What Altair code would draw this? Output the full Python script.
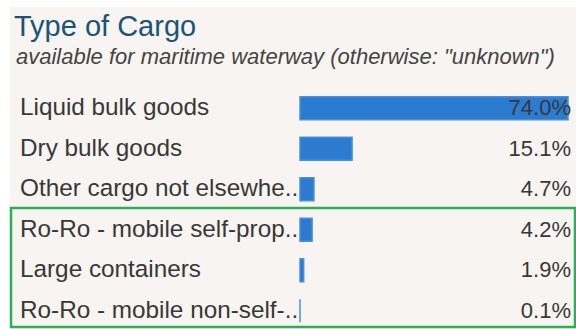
import altair as alt
import pandas as pd

categories = [
    "Liquid bulk goods",
    "Dry bulk goods",
    "Other cargo not elsewhe..",
    "Ro-Ro - mobile self-prop..",
    "Large containers",
    "Ro-Ro - mobile non-self-..",
]
shares = [74.0, 15.1, 4.7, 4.2, 1.9, 0.1]
value_labels = ["74.0%", "15.1%", "4.7%", "4.2%", "1.9%", "0.1%"]
title_text = ["Type of Cargo"]
subtitle_text = ['available for maritime waterway (otherwise: "unknown")']

df = pd.DataFrame({"cat": categories, "share": shares, "label": value_labels})
one = pd.DataFrame({"t": [0]})

FONT = "Liberation Sans"
W, H = 576, 329

yscale = alt.Scale(domain=categories, range=[88, 331], paddingInner=0.43, paddingOuter=0.215)
xscale = alt.Scale(domain=[0.9, 74], range=[300, 568], zero=False, clamp=True)

bg = alt.Chart(one).mark_rect(color="#f8f4f1").encode(
    x=alt.value(10), x2=alt.value(576), y=alt.value(7), y2=alt.value(329)
)

title = alt.Chart(one).mark_text(
    text=title_text[0], align="left", baseline="alphabetic", font=FONT,
    fontSize=29, color="#1b5479"
).encode(x=alt.value(14), y=alt.value(36))

subtitle = alt.Chart(one).mark_text(
    text=subtitle_text[0], align="left", baseline="alphabetic", font=FONT,
    fontSize=22, fontStyle="italic", color="#444444"
).encode(x=alt.value(16), y=alt.value(64))

bars = alt.Chart(df).mark_bar(color="#2b7bd1", stroke="#4a90d9", strokeWidth=1.5).encode(
    x=alt.X("share:Q", scale=xscale, axis=None),
    x2=alt.datum(0),
    y=alt.Y("cat:N", scale=yscale, axis=None, sort=categories),
)

names = alt.Chart(df).mark_text(
    align="left", baseline="middle", font=FONT, fontSize=24.3, color="#383838"
).encode(
    x=alt.value(20),
    y=alt.Y("cat:N", scale=yscale, axis=None, sort=categories),
    text="cat:N",
)

vals = alt.Chart(df).mark_text(
    align="right", baseline="middle", font=FONT, fontSize=22, color="#383838"
).encode(
    x=alt.value(571),
    y=alt.Y("cat:N", scale=yscale, axis=None, sort=categories),
    text="label:N",
)

box = alt.Chart(one).mark_rect(fillOpacity=0, stroke="#2fae5a", strokeWidth=2.5).encode(
    x=alt.value(11), x2=alt.value(575), y=alt.value(208), y2=alt.value(327)
)

chart = alt.layer(bg, title, subtitle, bars, names, vals, box).properties(
    width=W, height=H, padding=0, autosize=alt.AutoSizeParams(type="none"),
    background="white"
).configure_view(stroke=None)

chart.save("out.html", embed_options={"renderer": "svg", "actions": False})
